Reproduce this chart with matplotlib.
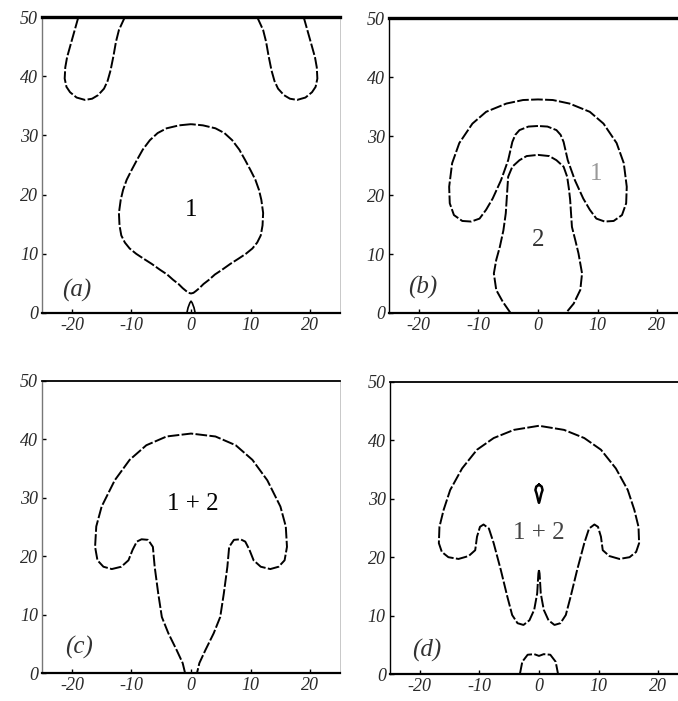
import matplotlib
matplotlib.use("Agg")
import matplotlib.pyplot as plt

plt.rcParams["axes.unicode_minus"] = False

# ---- contour outlines, (x, y) in plot units ----
# (a) single drop and two lobes hanging from the top wall
a_drop_x = [0, -2.0, -4.1, -5.6, -6.9, -8.1, -9.1, -10.0, -10.8, -11.4, -11.8, -12.1, -12.0,
            -11.7, -11.1, -10.3, -9.2, -8.0, -6.6, -5.2, -4.0, -3.0, -2.1, -1.4, -0.8, -0.4, 0,
            0.4, 0.8, 1.4, 2.1, 3.0, 4.0, 5.2, 6.6, 8.0, 9.2, 10.3, 11.1, 11.7, 12.0, 12.1, 11.8,
            11.4, 10.8, 10.0, 9.1, 8.1, 6.9, 5.6, 4.1, 2.0, 0]
a_drop_y = [31.9, 31.7, 31.2, 30.4, 29.2, 27.6, 25.8, 24.1, 22.5, 20.8, 19.1, 16.9, 14.8,
            13.1, 11.9, 10.9, 10.0, 9.2, 8.3, 7.3, 6.5, 5.6, 4.9, 4.2, 3.7, 3.4, 3.3,
            3.4, 3.7, 4.2, 4.9, 5.6, 6.5, 7.3, 8.3, 9.2, 10.0, 10.9, 11.9, 13.1, 14.8, 16.9, 19.1,
            20.8, 22.5, 24.1, 25.8, 27.6, 29.2, 30.4, 31.2, 31.7, 31.9]
a_lobe_left_x = [-18.9, -19.6, -20.3, -20.8, -21.1, -21.2, -20.9, -20.3, -19.2, -17.8,
                 -16.6, -15.6, -14.6, -14.0, -13.5, -13.0, -12.6, -12.1, -11.1]
a_lobe_right_x = [11.1, 12.1, 12.6, 13.0, 13.5, 14.0, 14.6, 15.6, 16.6, 17.8,
                  19.2, 20.3, 20.9, 21.2, 21.1, 20.8, 20.3, 19.6, 18.9]
a_lobe_left_y = [50, 47.5, 45.0, 43.2, 41.5, 39.6, 38.2, 37.3, 36.4, 36.0,
                 36.2, 36.8, 37.9, 39.2, 41.0, 43.5, 45.8, 47.8, 50]
a_lobe_right_y = [50, 47.8, 45.8, 43.5, 41.0, 39.2, 37.9, 36.8, 36.2, 36.0,
                  36.4, 37.3, 38.2, 39.6, 41.5, 43.2, 45.0, 47.5, 50]
a_seed_x = [-0.7, -0.5, -0.2, 0, 0.2, 0.5, 0.7]
a_seed_y = [0, 0.9, 1.7, 2.0, 1.7, 0.9, 0]

# (b) arch "1" around drop "2"
b_arch_x = [0, -1.6, -3.1, -3.8, -4.3, -5.0, -6.2, -7.6, -8.7, -9.8, -11.2, -12.7, -14.1,
            -14.8, -14.9, -14.4, -13.2, -11.0, -8.7, -5.3, -2.5, 0,
            2.5, 5.3, 8.7, 11.0, 13.2, 14.4, 14.9, 14.8, 14.1, 12.7, 11.2, 9.8, 8.7, 7.6,
            6.2, 5.0, 4.3, 3.8, 3.1, 1.6, 0]
b_arch_y = [31.7, 31.6, 31.0, 30.2, 29.0, 25.9, 22.5, 19.4, 17.5, 16.0, 15.5, 15.6, 16.6,
            18.6, 21.4, 25.4, 28.8, 32.1, 34.1, 35.5, 36.1, 36.2,
            36.1, 35.5, 34.1, 32.1, 28.8, 25.4, 21.4, 18.6, 16.6, 15.6, 15.5, 16.0, 17.5, 19.4,
            22.5, 25.9, 29.0, 30.2, 31.0, 31.6, 31.7]
b_drop_x = [-4.6, -5.9, -7.0, -7.4, -7.0, -6.4, -5.8, -5.4, -5.2, -5.0, -4.3, -3.1, -1.9, 0,
            1.9, 3.1, 4.3, 4.9, 5.2, 5.4, 5.7, 6.3, 6.8, 7.4, 7.1, 6.0, 4.7]
b_drop_y = [0, 1.9, 3.9, 6.7, 9.0, 11.2, 14.0, 16.9, 20.0, 23.1, 24.8, 25.9, 26.6, 26.8,
            26.6, 25.9, 24.8, 23.1, 21.0, 19.2, 14.6, 12.2, 10.1, 6.7, 3.9, 1.6, 0]

# (c) merged mushroom, open stem at the floor
c_left_x = [-1.0, -1.4, -2.4, -3.8, -4.9, -5.5, -6.1, -6.4, -7.2, -8.3, -9.1, -9.8, -10.5,
            -11.7, -13.3, -14.7, -15.7, -16.1, -15.9, -15.0, -12.8, -10.3, -7.5, -4.1, 0]
c_left_y = [0, 1.7, 3.9, 6.8, 9.6, 13.6, 18.2, 21.6, 22.8, 22.9, 22.5, 21.1, 19.3,
            18.2, 17.8, 18.2, 19.3, 21.6, 25.1, 28.5, 33.0, 36.5, 39.0, 40.5, 41.0]
c_right_x = [4.1, 7.5, 10.3, 12.8, 15.0, 15.9, 16.1, 15.7, 14.7, 13.3, 11.7, 10.5, 9.8,
             9.1, 8.3, 7.2, 6.4, 6.1, 5.5, 4.9, 3.8, 2.4, 1.4, 1.0]
c_right_y = [40.5, 39.0, 36.5, 33.0, 28.5, 25.1, 21.6, 19.3, 18.2, 17.8, 18.2, 19.3, 21.1,
             22.5, 22.9, 22.8, 21.6, 18.2, 13.6, 9.6, 6.8, 3.9, 1.7, 0]

# (d) mushroom with split stem, small bubble inside and one at the floor
d_left_x = [0, -0.1, -0.3, -0.8, -1.6, -2.6, -3.6, -4.5, -5.3, -6.4, -7.6, -8.4, -9.3,
            -9.9, -10.4, -10.7, -11.8, -13.5, -15.2, -16.3, -16.8, -16.7, -16.0, -14.9,
            -12.9, -10.4, -7.6, -4.2, 0]
d_left_y = [17.8, 17.2, 13.8, 11.0, 9.2, 8.4, 8.7, 10.1, 13.2, 17.8, 22.4, 24.9, 25.6,
            25.2, 23.5, 21.2, 20.2, 19.7, 20.0, 20.9, 22.4, 25.2, 28.1, 31.5,
            35.2, 38.4, 40.4, 41.8, 42.5]
d_right_x = [4.2, 7.6, 10.4, 12.9, 14.9, 16.0, 16.7, 16.8, 16.3, 15.2, 13.5, 11.8, 10.7,
             10.4, 9.9, 9.3, 8.4, 7.6, 6.4, 5.3, 4.5, 3.6, 2.6, 1.6, 0.8, 0.3, 0.1, 0]
d_right_y = [41.8, 40.4, 38.4, 35.2, 31.5, 28.1, 25.2, 22.4, 20.9, 20.0, 19.7, 20.2, 21.2,
             23.5, 25.2, 25.6, 24.9, 22.4, 17.8, 13.2, 10.1, 8.7, 8.4, 9.2, 11.0, 13.8, 17.2, 17.8]
d_bubble_x = [0, 0.45, 0.6, 0.4, 0.12, 0, -0.12, -0.4, -0.6, -0.45, 0]
d_bubble_y = [32.4, 32.1, 31.5, 30.9, 29.7, 29.3, 29.7, 30.9, 31.5, 32.1, 32.4]
d_floor_x = [-3.2, -2.8, -1.9, -0.8, 0, 0.8, 1.9, 2.8, 3.2]
d_floor_y = [0, 2.1, 3.3, 3.4, 3.1, 3.4, 3.3, 2.1, 0]

x_ticks = [-20, -10, 0, 10, 20]
y_ticks = [0, 10, 20, 30, 40, 50]

SERIF = "Liberation Serif"
DASH = (0, (6, 1.2))

fig = plt.figure(figsize=(6.78, 7.01), dpi=100)
boxes = {
    "a": [0.0620, 0.5535, 0.4395, 0.4222],
    "b": [0.5737, 0.5535, 0.4395, 0.4208],
    "c": [0.0620, 0.0399, 0.4395, 0.4166],
    "d": [0.5752, 0.0385, 0.4395, 0.4166],
}
axes = {k: fig.add_axes(v) for k, v in boxes.items()}

for key, ax in axes.items():
    ax.set_xlim(-25, 25)
    ax.set_ylim(0, 50)
    ax.set_xticks(x_ticks)
    ax.set_yticks(y_ticks)
    ax.set_xticklabels([str(t) for t in x_ticks], fontfamily=SERIF, fontstyle="italic",
                       fontsize=13, color="#2a2a2a")
    ax.set_yticklabels([str(t) for t in y_ticks], fontfamily=SERIF, fontstyle="italic",
                       fontsize=13, color="#2a2a2a")
    ax.tick_params(direction="in", length=3, width=1.0, pad=3, color="black")
    ax.spines["right"].set_color("#c8c8c8")
    ax.spines["right"].set_linewidth(0.7)
    ax.spines["bottom"].set_linewidth(1.6)
    ax.spines["left"].set_linewidth(1.0)
    ax.spines["top"].set_linewidth(1.3)

for key in ("a", "b"):
    axes[key].spines["top"].set_linewidth(2.4)
for key in ("a", "c"):
    axes[key].spines["left"].set_color("#777777")

line = dict(color="black", lw=1.4, ls=DASH, solid_joinstyle="round")
region = dict(fontfamily=SERIF, fontsize=18, ha="center", va="center")
tag = dict(fontfamily=SERIF, fontstyle="italic", fontsize=18, ha="center", va="center",
           color="#333333")

ax = axes["a"]
ax.plot(a_drop_x, a_drop_y, **line)
ax.plot(a_lobe_left_x, a_lobe_left_y, **line)
ax.plot(a_lobe_right_x, a_lobe_right_y, **line)
ax.plot(a_seed_x, a_seed_y, color="black", lw=1.2)
ax.text(0, 17.4, "1", **region)
ax.text(-19.2, 3.8, "(a)", **tag)

ax = axes["b"]
ax.plot(b_arch_x, b_arch_y, **line)
ax.plot(b_drop_x, b_drop_y, **line)
ax.text(9.8, 23.5, "1", color="#999999", **region)
ax.text(0, 12.3, "2", color="#333333", **region)
ax.text(-19.4, 4.4, "(b)", **tag)

ax = axes["c"]
ax.plot(c_left_x + c_right_x, c_left_y + c_right_y, **line)
ax.text(0.3, 29.0, "1 + 2", **region)
ax.text(-18.8, 4.3, "(c)", **tag)

ax = axes["d"]
ax.plot(d_left_x + d_right_x, d_left_y + d_right_y, **line)
ax.plot(d_bubble_x, d_bubble_y, color="black", lw=1.8)
ax.plot(d_floor_x, d_floor_y, **line)
ax.text(0, 24.1, "1 + 2", color="#444444", **region)
ax.text(-18.8, 4.0, "(d)", **tag)

fig.savefig("out.png", dpi=100)
plt.close(fig)
